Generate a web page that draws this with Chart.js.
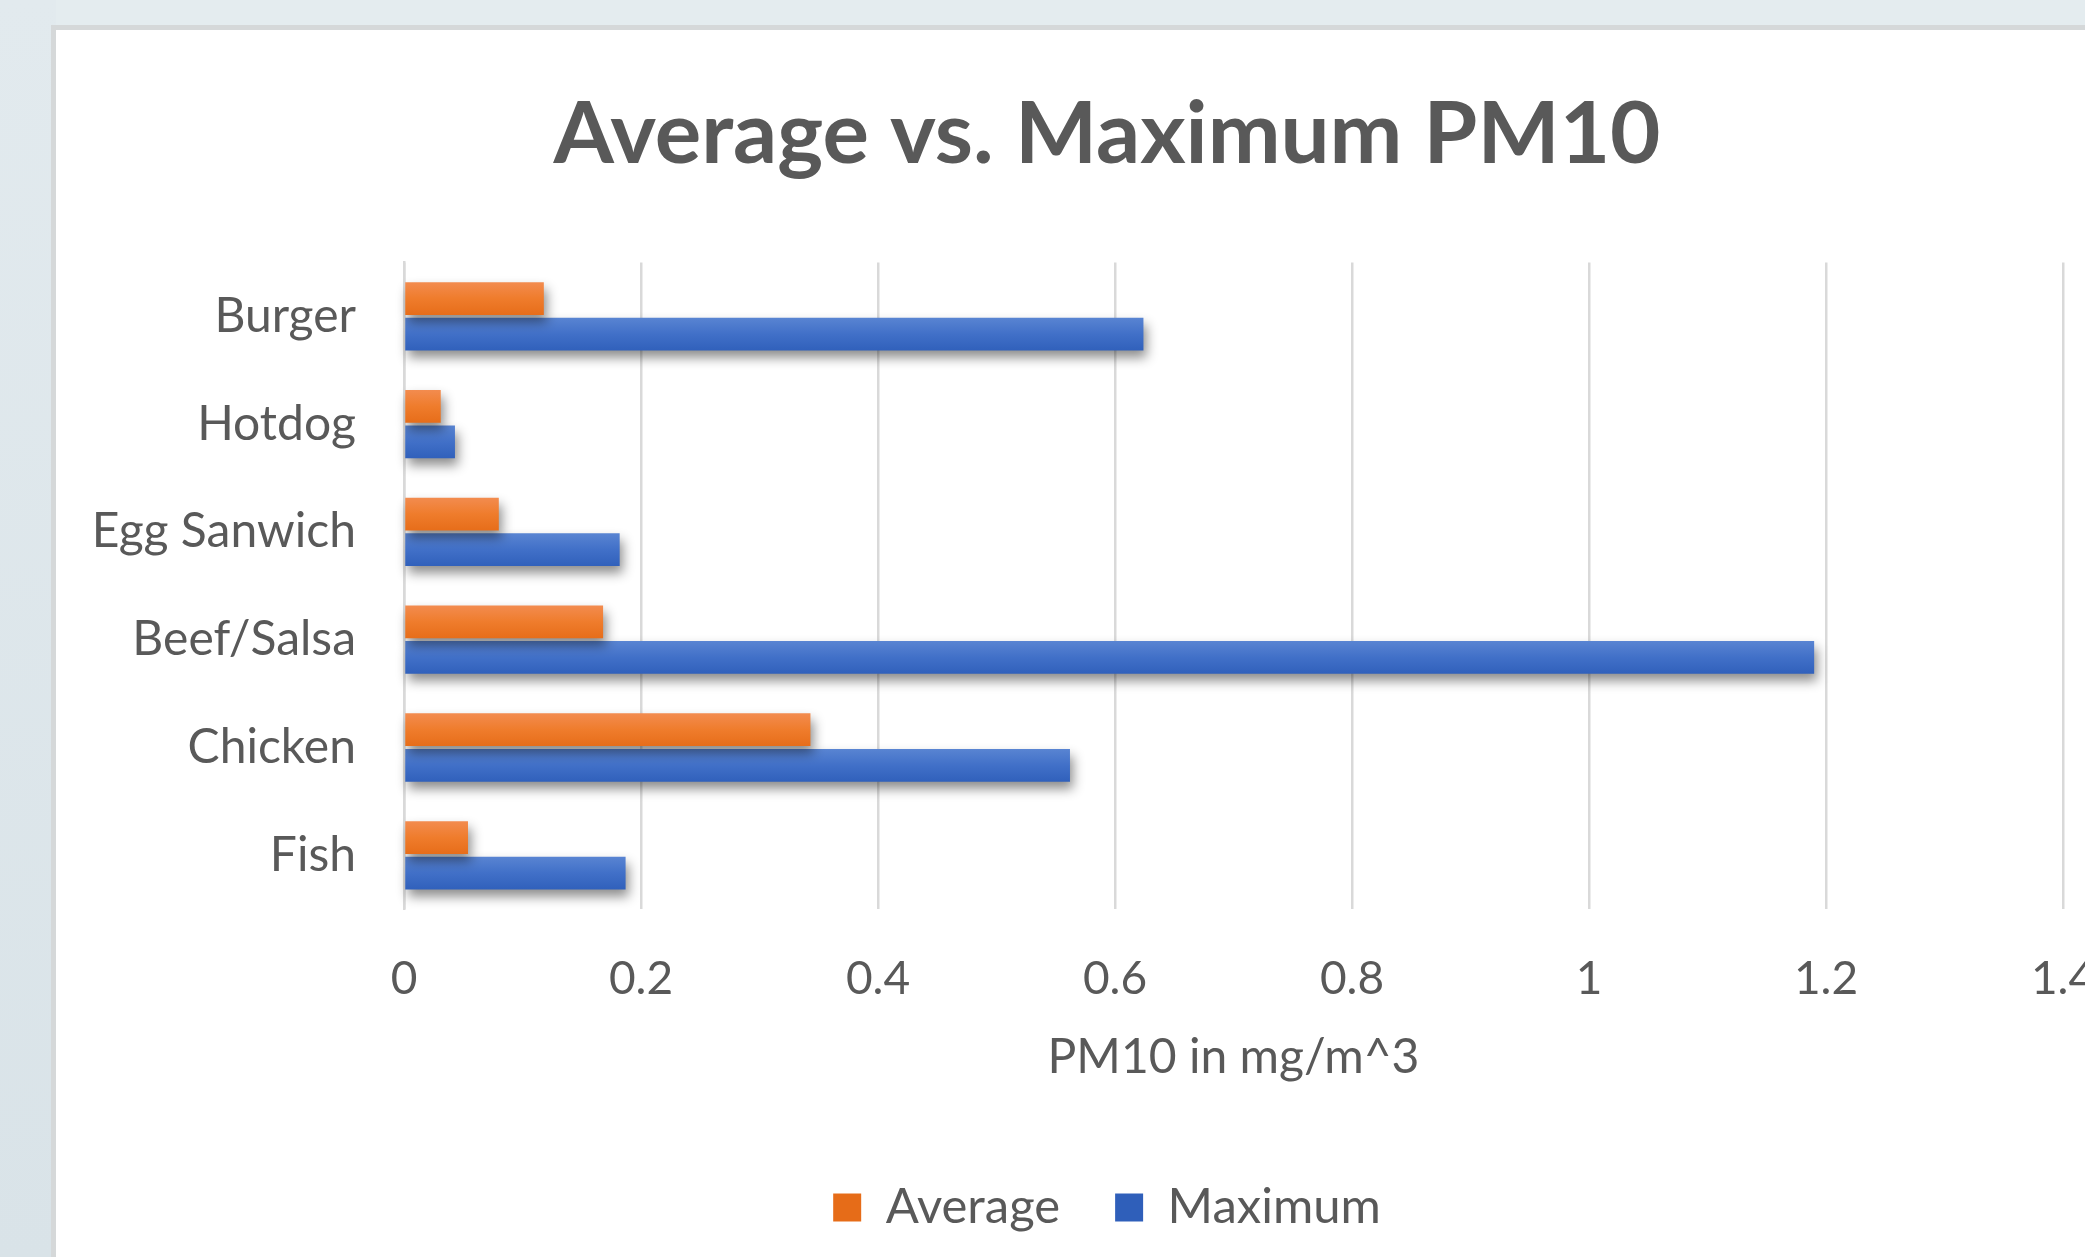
<!DOCTYPE html>
<html>
<head>
<meta charset="utf-8">
<script src="https://cdn.jsdelivr.net/npm/chart.js@4.4.0/dist/chart.umd.min.js"></script>
<style>
  html, body { margin: 0; padding: 0; width: 2085px; height: 1257px; overflow: hidden; }
  body { position: relative; background: #e4ecef; }
  #side { position: absolute; left: 0; top: 0; width: 56px; height: 1257px;
          background: linear-gradient(180deg, #e2eaee 0%, #d9e3e8 100%); }
  #panel { position: absolute; left: 51px; top: 25px; width: 2200px; height: 1300px;
           background: #ffffff; border-top: 5px solid #d5d8d9; border-left: 5px solid #d5d8d9; }
  #box { position: absolute; left: 0; top: 0; width: 2102px; height: 1227px; }
</style>
</head>
<body>
<div id="side"></div>
<div id="panel"><div id="box"><canvas id="c" width="2102" height="1227"></canvas></div></div>
<script>
// Food items, top to bottom
const categories = ['Burger', 'Hotdog', 'Egg Sanwich', 'Beef/Salsa', 'Chicken', 'Fish'];
// PM10 concentrations in mg/m^3
const averageValues = [0.118, 0.031, 0.080, 0.168, 0.343, 0.054];
const maximumValues = [0.624, 0.043, 0.182, 1.190, 0.562, 0.187];
// Value axis ticks and their labels
const valueTicks = [0, 0.2, 0.4, 0.6, 0.8, 1, 1.2, 1.4];
const valueTickLabels = ['0', '0.2', '0.4', '0.6', '0.8', '1', '1.2', '1.4'];

const CAT_PCT = 0.66;
const BAR_PCT = 0.92;
const TEXT = '#595959';
const FONT = 'Lato';

// Vertical gradient fill for each bar, spanning that bar's own half of the category band
function gradientFill(stops, flat, upperHalf) {
  return (c) => {
    if (c.type !== 'data') return flat;
    const chart = c.chart;
    const ys = chart.scales.y;
    if (!ys || !ys.height) return flat;
    const center = ys.getPixelForValue(c.dataIndex);
    const half = ys.height / categories.length * CAT_PCT / 2;
    const y0 = upperHalf ? center - half : center;
    const y1 = upperHalf ? center : center + half;
    const g = chart.ctx.createLinearGradient(0, y0, 0, y1);
    stops.forEach(([o, col]) => g.addColorStop(o, col));
    return g;
  };
}

// Soft drop shadow under the bars
const barShadow = {
  id: 'barShadow',
  beforeDatasetsDraw(chart) {
    const ctx = chart.ctx;
    ctx.save();
    ctx.shadowColor = 'rgba(0,0,0,0.45)';
    ctx.shadowBlur = 12;
    ctx.shadowOffsetX = 3;
    ctx.shadowOffsetY = 7;
  },
  afterDatasetsDraw(chart) {
    chart.ctx.restore();
  }
};

new Chart(document.getElementById('c'), {
  type: 'bar',
  data: {
    labels: categories,
    datasets: [
      {
        label: 'Average',
        data: averageValues,
        backgroundColor: gradientFill([[0, '#f38d52'], [0.5, '#ef7c2c'], [1, '#e66c18']], '#ed7d31', true),
        borderWidth: 0,
        categoryPercentage: CAT_PCT,
        barPercentage: BAR_PCT,
        clip: false
      },
      {
        label: 'Maximum',
        data: maximumValues,
        backgroundColor: gradientFill([[0, '#5b86d3'], [0.5, '#4170c8'], [1, '#2f5fba']], '#4472c4', false),
        borderWidth: 0,
        categoryPercentage: CAT_PCT,
        barPercentage: BAR_PCT,
        clip: false
      }
    ]
  },
  options: {
    indexAxis: 'y',
    responsive: false,
    devicePixelRatio: 1,
    animation: false,
    layout: { padding: { left: 0, right: 0, top: 0, bottom: 15 } },
    plugins: {
      title: {
        display: true,
        text: 'Average vs. Maximum PM10',
        color: TEXT,
        font: { family: FONT, size: 87, weight: 'bold' },
        padding: { top: 53, bottom: 75 }
      },
      legend: {
        position: 'bottom',
        labels: {
          color: TEXT,
          font: { family: FONT, size: 49 },
          boxWidth: 28,
          boxHeight: 28,
          padding: 55
        }
      },
      tooltip: { enabled: false }
    },
    scales: {
      x: {
        min: 0,
        max: 1.4,
        afterBuildTicks: (s) => { s.ticks = valueTicks.map(v => ({ value: v })); },
        grid: { color: '#d9d9d9', lineWidth: 2.5, drawTicks: false },
        border: { display: false },
        ticks: {
          color: TEXT,
          font: { family: FONT, size: 46 },
          padding: 42,
          callback: (v, i) => valueTickLabels[i]
        },
        title: {
          display: true,
          text: 'PM10 in mg/m^3',
          color: TEXT,
          font: { family: FONT, size: 48 },
          padding: { top: -20, bottom: 42 }
        }
      },
      y: {
        grid: { display: false },
        border: { display: true, color: '#d9d9d9', width: 2.5 },
        ticks: { color: TEXT, font: { family: FONT, size: 48 }, padding: 40 },
        afterFit: (s) => { s.width = 348; }
      },
      // empty margin column to the right of the plot
      yRight: {
        type: 'category',
        position: 'right',
        labels: categories,
        grid: { display: false },
        border: { display: false },
        ticks: { display: false },
        afterFit: (s) => { s.width = 95; }
      }
    }
  },
  plugins: [barShadow]
});
</script>
</body>
</html>
